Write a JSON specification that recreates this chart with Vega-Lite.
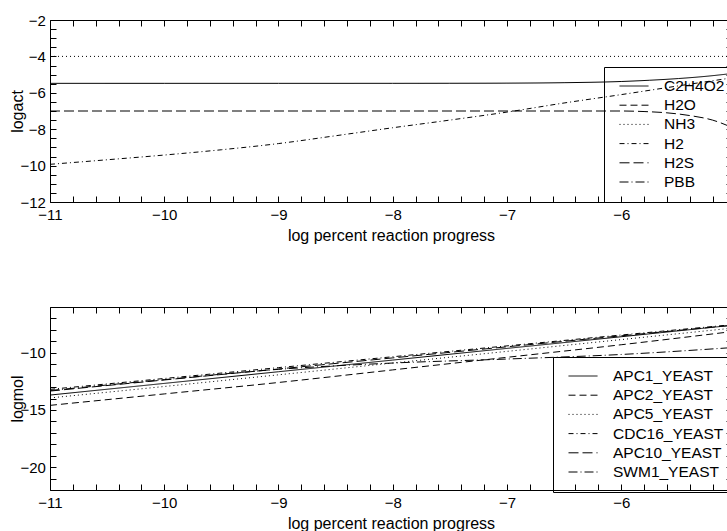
{
  "$schema": "https://vega.github.io/schema/vega-lite/v6.json",
  "background": "white",
  "padding": {"left": 9, "top": 12, "right": 0, "bottom": 0},
  "bounds": "flush",
  "spacing": 105,
  "resolve": {"scale": {"strokeDash": "independent"}, "legend": {"strokeDash": "independent"}},
  "config": {
    "font": "Liberation Sans",
    "view": {"stroke": "black", "strokeWidth": 1},
    "axis": {
      "domain": false,
      "tickColor": "black", "tickWidth": 1,
      "labelColor": "black", "labelFont": "Liberation Sans", "labelFontSize": 15,
      "titleColor": "black", "titleFont": "Liberation Sans", "titleFontSize": 16, "titleFontWeight": "normal",
      "titlePadding": 5.5, "grid": false
    }
  },
  "datasets": {
    "act": [
      {"progress": -11, "logact": -5.48, "species": "C2H4O2"},
      {"progress": -10, "logact": -5.48, "species": "C2H4O2"},
      {"progress": -9, "logact": -5.48, "species": "C2H4O2"},
      {"progress": -8, "logact": -5.479, "species": "C2H4O2"},
      {"progress": -7.5, "logact": -5.476, "species": "C2H4O2"},
      {"progress": -7, "logact": -5.469, "species": "C2H4O2"},
      {"progress": -6.5, "logact": -5.445, "species": "C2H4O2"},
      {"progress": -6, "logact": -5.379, "species": "C2H4O2"},
      {"progress": -5.75, "logact": -5.31, "species": "C2H4O2"},
      {"progress": -5.5, "logact": -5.217, "species": "C2H4O2"},
      {"progress": -5.25, "logact": -5.09, "species": "C2H4O2"},
      {"progress": -5.03, "logact": -4.94, "species": "C2H4O2"},
      {"progress": -11, "logact": 0, "species": "H2O"},
      {"progress": -5.03, "logact": 0, "species": "H2O"},
      {"progress": -11, "logact": -4, "species": "NH3"},
      {"progress": -5.03, "logact": -4, "species": "NH3"},
      {"progress": -11, "logact": -9.93, "species": "H2"},
      {"progress": -10.5, "logact": -9.68, "species": "H2"},
      {"progress": -10, "logact": -9.42, "species": "H2"},
      {"progress": -9.5, "logact": -9.13, "species": "H2"},
      {"progress": -9, "logact": -8.79, "species": "H2"},
      {"progress": -8.5, "logact": -8.36, "species": "H2"},
      {"progress": -8, "logact": -7.92, "species": "H2"},
      {"progress": -7.5, "logact": -7.5, "species": "H2"},
      {"progress": -7, "logact": -7.06, "species": "H2"},
      {"progress": -6.5, "logact": -6.56, "species": "H2"},
      {"progress": -6, "logact": -6.1, "species": "H2"},
      {"progress": -5.5, "logact": -5.62, "species": "H2"},
      {"progress": -5.03, "logact": -5.18, "species": "H2"},
      {"progress": -11, "logact": -7, "species": "H2S"},
      {"progress": -8, "logact": -7, "species": "H2S"},
      {"progress": -6, "logact": -7, "species": "H2S"},
      {"progress": -5.8, "logact": -7.03, "species": "H2S"},
      {"progress": -5.6, "logact": -7.1, "species": "H2S"},
      {"progress": -5.4, "logact": -7.25, "species": "H2S"},
      {"progress": -5.2, "logact": -7.5, "species": "H2S"},
      {"progress": -5.03, "logact": -7.9, "species": "H2S"},
      {"progress": -11, "logact": -14, "species": "PBB"},
      {"progress": -5.03, "logact": -14, "species": "PBB"}
    ],
    "mol": [
      {"progress": -11, "logmol": -13.7, "protein": "APC1_YEAST"},
      {"progress": -10, "logmol": -12.68, "protein": "APC1_YEAST"},
      {"progress": -9, "logmol": -11.66, "protein": "APC1_YEAST"},
      {"progress": -8, "logmol": -10.64, "protein": "APC1_YEAST"},
      {"progress": -7, "logmol": -9.62, "protein": "APC1_YEAST"},
      {"progress": -6, "logmol": -8.6, "protein": "APC1_YEAST"},
      {"progress": -5.03, "logmol": -7.6, "protein": "APC1_YEAST"},
      {"progress": -11, "logmol": -14.6, "protein": "APC2_YEAST"},
      {"progress": -10, "logmol": -13.6, "protein": "APC2_YEAST"},
      {"progress": -9, "logmol": -12.6, "protein": "APC2_YEAST"},
      {"progress": -8, "logmol": -11.5, "protein": "APC2_YEAST"},
      {"progress": -7, "logmol": -10.4, "protein": "APC2_YEAST"},
      {"progress": -6, "logmol": -9.3, "protein": "APC2_YEAST"},
      {"progress": -5.03, "logmol": -8.15, "protein": "APC2_YEAST"},
      {"progress": -11, "logmol": -13.95, "protein": "APC5_YEAST"},
      {"progress": -10, "logmol": -12.95, "protein": "APC5_YEAST"},
      {"progress": -9, "logmol": -11.93, "protein": "APC5_YEAST"},
      {"progress": -8, "logmol": -10.9, "protein": "APC5_YEAST"},
      {"progress": -7, "logmol": -9.88, "protein": "APC5_YEAST"},
      {"progress": -6, "logmol": -8.85, "protein": "APC5_YEAST"},
      {"progress": -5.03, "logmol": -7.85, "protein": "APC5_YEAST"},
      {"progress": -11, "logmol": -13.2, "protein": "CDC16_YEAST"},
      {"progress": -10, "logmol": -12.25, "protein": "CDC16_YEAST"},
      {"progress": -9, "logmol": -11.3, "protein": "CDC16_YEAST"},
      {"progress": -8, "logmol": -10.35, "protein": "CDC16_YEAST"},
      {"progress": -7, "logmol": -9.4, "protein": "CDC16_YEAST"},
      {"progress": -6, "logmol": -8.45, "protein": "CDC16_YEAST"},
      {"progress": -5.03, "logmol": -7.55, "protein": "CDC16_YEAST"},
      {"progress": -11, "logmol": -13.35, "protein": "APC10_YEAST"},
      {"progress": -10, "logmol": -12.38, "protein": "APC10_YEAST"},
      {"progress": -9, "logmol": -11.42, "protein": "APC10_YEAST"},
      {"progress": -8, "logmol": -10.45, "protein": "APC10_YEAST"},
      {"progress": -7, "logmol": -9.48, "protein": "APC10_YEAST"},
      {"progress": -6, "logmol": -8.52, "protein": "APC10_YEAST"},
      {"progress": -5.03, "logmol": -7.6, "protein": "APC10_YEAST"},
      {"progress": -11, "logmol": -13.3, "protein": "SWM1_YEAST"},
      {"progress": -10, "logmol": -12.35, "protein": "SWM1_YEAST"},
      {"progress": -9, "logmol": -11.45, "protein": "SWM1_YEAST"},
      {"progress": -8, "logmol": -10.9, "protein": "SWM1_YEAST"},
      {"progress": -7, "logmol": -10.55, "protein": "SWM1_YEAST"},
      {"progress": -6, "logmol": -10.15, "protein": "SWM1_YEAST"},
      {"progress": -5.03, "logmol": -9.55, "protein": "SWM1_YEAST"}
    ]
  },
  "vconcat": [
    {
      "width": 682,
      "height": 182,
      "data": {"name": "act"},
      "layer": [
        {
          "mark": {"type": "line", "clip": true, "color": "black", "strokeWidth": 1, "interpolate": "monotone"},
          "encoding": {
            "x": {"field": "progress", "type": "quantitative",
              "scale": {"domain": [-11, -5.03], "nice": false, "zero": false},
              "axis": {"orient": "bottom", "title": "log percent reaction progress", "tickCount": 1000, "tickMinStep": 0.1,
                "ticks": true, "tickSize": 6, "offset": -6, "labelPadding": 5, "labelFlush": false, "labelOverlap": false,
                "values": [-11,-10.8,-10.6,-10.4,-10.2,-10,-9.8,-9.6,-9.4,-9.2,-9,-8.8,-8.6,-8.4,-8.2,-8,-7.8,-7.6,-7.4,-7.2,-7,-6.8,-6.6,-6.4,-6.2,-6,-5.8,-5.6,-5.4,-5.2],
                "labelExpr": "datum.value % 1 === 0 ? format(datum.value, 'd') : ''"}},
            "y": {"field": "logact", "type": "quantitative",
              "scale": {"domain": [-12, -2], "nice": false, "zero": false},
              "axis": {"orient": "left", "title": "logact", "tickCount": 1000, "tickMinStep": 0.1,
                "ticks": true, "tickSize": 6, "offset": -6, "labelPadding": 4.6, "labelFlush": false, "labelOverlap": false,
                "titleX": -30.3,
                "values": [-12,-11.5,-11,-10.5,-10,-9.5,-9,-8.5,-8,-7.5,-7,-6.5,-6,-5.5,-5,-4.5,-4,-3.5,-3,-2.5,-2],
                "labelExpr": "datum.value % 2 === 0 ? format(datum.value, 'd') : ''"}},
            "strokeDash": {"field": "species", "type": "nominal",
              "scale": {"domain": ["C2H4O2", "H2O", "NH3", "H2", "H2S", "PBB"],
                "range": [[1, 0], [7, 4], [1, 3], [5, 3, 1, 3], [10, 4], [9, 3, 1, 3]]},
              "legend": {"orient": "none", "legendX": 554, "legendY": 47, "title": null,
                "symbolType": "stroke", "symbolSize": 841, "symbolStrokeWidth": 1, "symbolStrokeColor": "black",
                "symbolOffset": 3.5, "labelOffset": 15, "padding": 11.5, "rowPadding": 3.2, "clipHeight": 15,
                "strokeColor": "black", "labelFont": "Liberation Sans", "labelFontSize": 15.5,
                "labelColor": "black", "labelLimit": 400}}
          }
        },
        {
          "mark": {"type": "line", "clip": true, "strokeOpacity": 0},
          "encoding": {
            "x": {"field": "progress", "type": "quantitative",
              "axis": {"orient": "top", "title": null, "labels": false, "tickCount": 1000, "tickMinStep": 0.1,
                "ticks": true, "tickSize": 6, "offset": -6,
                "values": [-11,-10.8,-10.6,-10.4,-10.2,-10,-9.8,-9.6,-9.4,-9.2,-9,-8.8,-8.6,-8.4,-8.2,-8,-7.8,-7.6,-7.4,-7.2,-7,-6.8,-6.6,-6.4,-6.2,-6,-5.8,-5.6,-5.4,-5.2]}},
            "y": {"field": "logact", "type": "quantitative",
              "axis": {"orient": "right", "title": null, "labels": false, "tickCount": 1000, "tickMinStep": 0.1,
                "ticks": true, "tickSize": 6, "offset": -6,
                "values": [-12,-11.5,-11,-10.5,-10,-9.5,-9,-8.5,-8,-7.5,-7,-6.5,-6,-5.5,-5,-4.5,-4,-3.5,-3,-2.5,-2]}},
            "detail": {"field": "species"}
          }
        }
      ],
      "resolve": {"axis": {"x": "independent", "y": "independent"}}
    },
    {
      "width": 682,
      "height": 183,
      "data": {"name": "mol"},
      "layer": [
        {
          "mark": {"type": "line", "clip": true, "color": "black", "strokeWidth": 1, "interpolate": "monotone"},
          "encoding": {
            "x": {"field": "progress", "type": "quantitative",
              "scale": {"domain": [-11, -5.03], "nice": false, "zero": false},
              "axis": {"orient": "bottom", "title": "log percent reaction progress", "tickCount": 1000, "tickMinStep": 0.1,
                "ticks": true, "tickSize": 6, "offset": -6, "labelPadding": 5, "labelFlush": false, "labelOverlap": false,
                "values": [-11,-10.8,-10.6,-10.4,-10.2,-10,-9.8,-9.6,-9.4,-9.2,-9,-8.8,-8.6,-8.4,-8.2,-8,-7.8,-7.6,-7.4,-7.2,-7,-6.8,-6.6,-6.4,-6.2,-6,-5.8,-5.6,-5.4,-5.2],
                "labelExpr": "datum.value % 1 === 0 ? format(datum.value, 'd') : ''"}},
            "y": {"field": "logmol", "type": "quantitative",
              "scale": {"domain": [-22, -6], "nice": false, "zero": false},
              "axis": {"orient": "left", "title": "logmol", "tickCount": 1000, "tickMinStep": 0.1,
                "ticks": true, "tickSize": 6, "offset": -6, "labelPadding": 4.6, "labelFlush": false, "labelOverlap": false,
                "titleX": -30.3,
                "values": [-22,-21,-20,-19,-18,-17,-16,-15,-14,-13,-12,-11,-10,-9,-8,-7,-6],
                "labelExpr": "datum.value % 5 === 0 ? format(datum.value, 'd') : ''"}},
            "strokeDash": {"field": "protein", "type": "nominal",
              "scale": {"domain": ["APC1_YEAST", "APC2_YEAST", "APC5_YEAST", "CDC16_YEAST", "APC10_YEAST", "SWM1_YEAST"],
                "range": [[1, 0], [7, 4], [1, 3], [5, 3, 1, 3], [10, 4], [9, 3, 1, 3]]},
              "legend": {"orient": "none", "legendX": 503, "legendY": 50, "title": null,
                "symbolType": "stroke", "symbolSize": 841, "symbolStrokeWidth": 1, "symbolStrokeColor": "black",
                "symbolOffset": 3.5, "labelOffset": 15, "padding": 11.5, "rowPadding": 3.2, "clipHeight": 15,
                "strokeColor": "black", "labelFont": "Liberation Sans", "labelFontSize": 15.5,
                "labelColor": "black", "labelLimit": 400}}
          }
        },
        {
          "mark": {"type": "line", "clip": true, "strokeOpacity": 0},
          "encoding": {
            "x": {"field": "progress", "type": "quantitative",
              "axis": {"orient": "top", "title": null, "labels": false, "tickCount": 1000, "tickMinStep": 0.1,
                "ticks": true, "tickSize": 6, "offset": -6,
                "values": [-11,-10.8,-10.6,-10.4,-10.2,-10,-9.8,-9.6,-9.4,-9.2,-9,-8.8,-8.6,-8.4,-8.2,-8,-7.8,-7.6,-7.4,-7.2,-7,-6.8,-6.6,-6.4,-6.2,-6,-5.8,-5.6,-5.4,-5.2]}},
            "y": {"field": "logmol", "type": "quantitative",
              "axis": {"orient": "right", "title": null, "labels": false, "tickCount": 1000, "tickMinStep": 0.1,
                "ticks": true, "tickSize": 6, "offset": -6,
                "values": [-22,-21,-20,-19,-18,-17,-16,-15,-14,-13,-12,-11,-10,-9,-8,-7,-6]}},
            "detail": {"field": "protein"}
          }
        }
      ],
      "resolve": {"axis": {"x": "independent", "y": "independent"}}
    }
  ]
}
